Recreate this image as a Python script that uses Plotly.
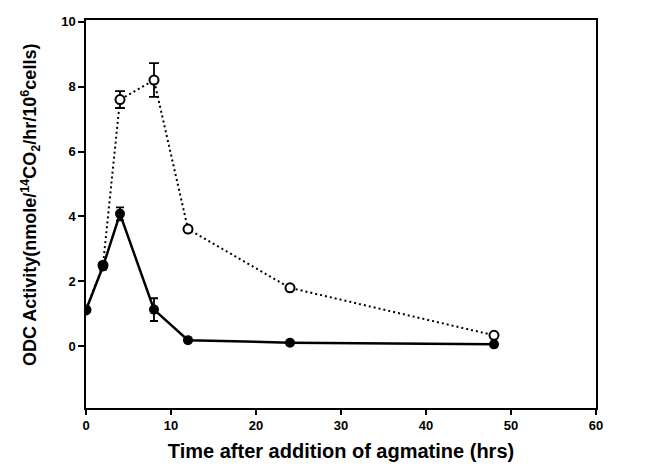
import plotly.graph_objects as go

time_hrs = [0, 2, 4, 8, 12, 24, 48]
filled_vals = [1.12, 2.46, 4.08, 1.13, 0.19, 0.11, 0.06]
filled_err = [0.0, 0.1, 0.2, 0.35, 0.0, 0.0, 0.0]
open_vals = [1.12, 2.5, 7.6, 8.2, 3.61, 1.8, 0.34]
open_err = [0.0, 0.0, 0.26, 0.52, 0.0, 0.0, 0.0]

x_ticks = [0, 10, 20, 30, 40, 50, 60]
y_ticks = [0, 2, 4, 6, 8, 10]

fig = go.Figure()
fig.add_trace(go.Scatter(
    x=time_hrs, y=open_vals,
    mode="lines+markers",
    line=dict(color="black", width=2, dash="2px,3px"),
    marker=dict(symbol="circle", size=9, color="white", line=dict(width=2, color="black")),
    error_y=dict(type="data", array=open_err, color="black", thickness=1.8, width=5),
    showlegend=False,
))
fig.add_trace(go.Scatter(
    x=time_hrs, y=filled_vals,
    mode="lines+markers",
    line=dict(color="black", width=2.5),
    marker=dict(symbol="circle", size=10, color="black"),
    error_y=dict(type="data", array=filled_err, color="black", thickness=1.8, width=4),
    showlegend=False,
))

font_family = "Liberation Sans, Arial, sans-serif"
fig.update_layout(
    width=655, height=475,
    margin=dict(l=86, r=59, t=20, b=67),
    plot_bgcolor="white", paper_bgcolor="white",
    font=dict(family=font_family, color="black"),
)
fig.update_xaxes(
    range=[0, 60], tickvals=x_ticks, ticktext=[f"<b>{v}</b>" for v in x_ticks],
    ticks="outside", ticklen=5, tickwidth=1.5, tickcolor="black",
    showline=True, linecolor="black", linewidth=1.5, mirror=True,
    showgrid=False, zeroline=False,
    tickfont=dict(size=13, family=font_family),
    title=dict(text="<b>Time after addition of agmatine (hrs)</b>", font=dict(size=20, family=font_family), standoff=12),
)
fig.update_yaxes(
    range=[-1.9, 10.05], tickvals=y_ticks, ticktext=[f"<b>{v}</b>" for v in y_ticks],
    ticks="outside", ticklen=6, tickwidth=1.5, tickcolor="black",
    showline=True, linecolor="black", linewidth=1.5, mirror=True,
    showgrid=False, zeroline=False,
    tickfont=dict(size=13, family=font_family),
)
fig.add_annotation(
    text="<b>ODC Activity(nmole/<sup>14</sup>CO<sub>2</sub>/hr/10<sup>6</sup>cells)</b>",
    xref="paper", yref="paper", x=0, y=0.523, xanchor="center", yanchor="middle",
    xshift=-56, textangle=-90, showarrow=False,
    font=dict(size=18, family=font_family, color="black"),
)

fig.write_html("out.html")
